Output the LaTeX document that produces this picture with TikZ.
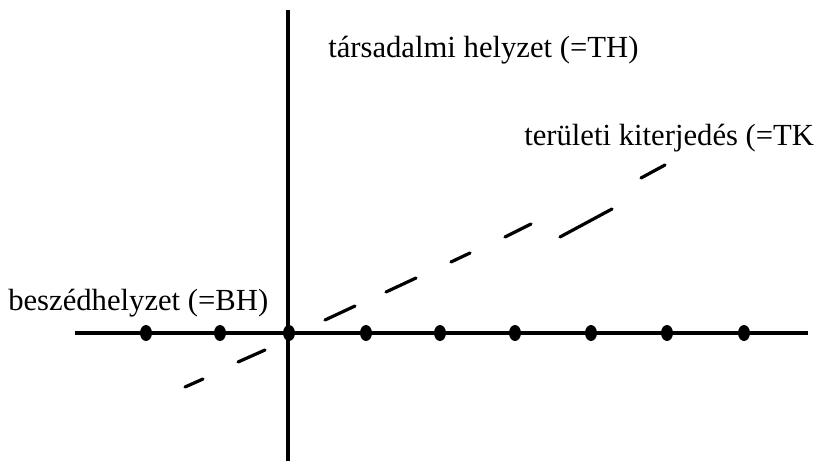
\documentclass[tikz,border=0pt]{standalone}
\usepackage{fontspec}
\setmainfont{Liberation Serif}
\usetikzlibrary{shapes.geometric}
\begin{document}
\begin{tikzpicture}[x=0.75pt,y=-0.75pt,
  axis/.style={line width=2.6pt},
  dashseg/.style={line width=2.4pt,line cap=round},
  pt/.style={ellipse,fill=black,inner sep=0pt,minimum width=9pt,minimum height=12pt},
  lab/.style={anchor=base west,inner sep=0pt,font=\fontsize{23}{27}\selectfont}]
\useasboundingbox (0,0) rectangle (826,461);
% axes
\coordinate (vtop) at (288,10);
\coordinate (vbot) at (288,461);
\coordinate (hl) at (75,333);
\coordinate (hr) at (808,333);
\draw[axis] (vtop) -- (vbot);
\draw[axis] (hl) -- (hr);
% dots
\foreach \x [count=\i] in {146,220,289,366,440,515,591,667,744}
  \node[pt] (d\i) at (\x,333) {};
% dashed line
\foreach \a/\b/\c/\d [count=\j] in {185/387/203/379, 238/362/265/350, 325/320/355/306, 386/292/416/278, 451/262/470/253, 505/237/531/224, 560/237/612/209, 641/178/665/165}
  \draw[dashseg] (\a,\b) coordinate (s\j) -- (\c,\d) coordinate (e\j);
% labels
\node[lab] (th) at (328,57) {társadalmi helyzet (=TH)};
\node[lab] (tk) at (524,145) {területi kiterjedés (=TK};
\node[lab] (bh) at (8,310) {beszédhelyzet (=BH)};
\end{tikzpicture}
\end{document}
